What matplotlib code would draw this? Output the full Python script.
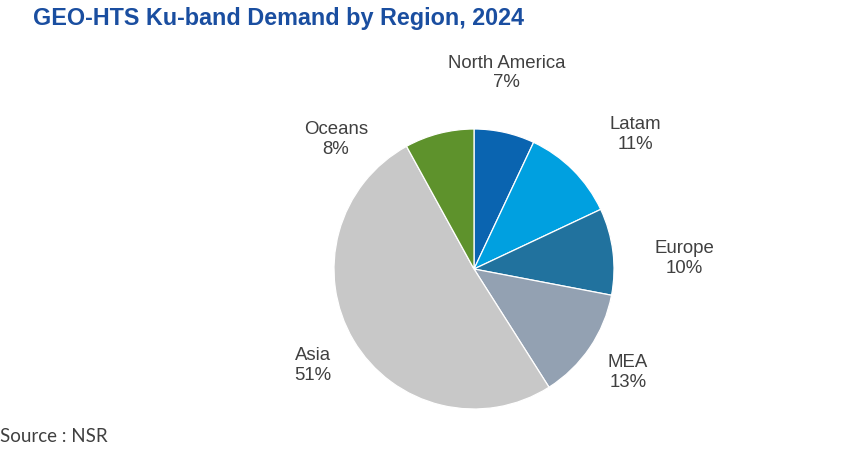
import numpy as np
import matplotlib
matplotlib.use("Agg")
import matplotlib.pyplot as plt

# data
regions = ["North America", "Latam", "Europe", "MEA", "Asia", "Oceans"]
shares = [7, 11, 10, 13, 51, 8]
colors = ["#0a64b0", "#00a0e0", "#21729e", "#93a1b2", "#c8c8c8", "#5e922c"]

# label placement (x, y in units of the pie radius), like Excel's best fit
label_pos = [(0.235, 1.40), (1.155, 0.96), (1.50, 0.075),
             (1.10, -0.74), (-1.15, -0.69), (-0.985, 0.925)]

plt.rcParams['font.family'] = ['Liberation Sans', 'DejaVu Sans']

W, H = 867, 454
fig = plt.figure(figsize=(W / 100, H / 100), dpi=100)

cx, cy, r = 474, 269, 140
ax = fig.add_axes([(cx - r) / W, (H - cy - r) / H, 2 * r / W, 2 * r / H])
ax.pie(shares, colors=colors, startangle=90, counterclock=False,
       wedgeprops=dict(edgecolor="white", linewidth=0.9))
ax.set_xlim(-1, 1)
ax.set_ylim(-1, 1)
ax.set_aspect("equal")
ax.axis("off")

for name, val, (lx, ly) in zip(regions, shares, label_pos):
    ax.text(lx, ly, f"{name}\n{val}%", ha="center", va="center",
            fontsize=13.4, color="#404040", linespacing=1.22, clip_on=False)

fig.text(33 / W, 1 - 18 / H, "GEO-HTS Ku-band Demand by Region, 2024",
         fontsize=16.8, fontweight="bold", color="#1a4ea0", ha="left", va="center")
fig.text(0, 1 - 437 / H, "Source : NSR", fontsize=13.5, color="#404040",
         ha="left", va="center", family=["Lato", "DejaVu Sans"])

fig.savefig("out.png", dpi=100)
